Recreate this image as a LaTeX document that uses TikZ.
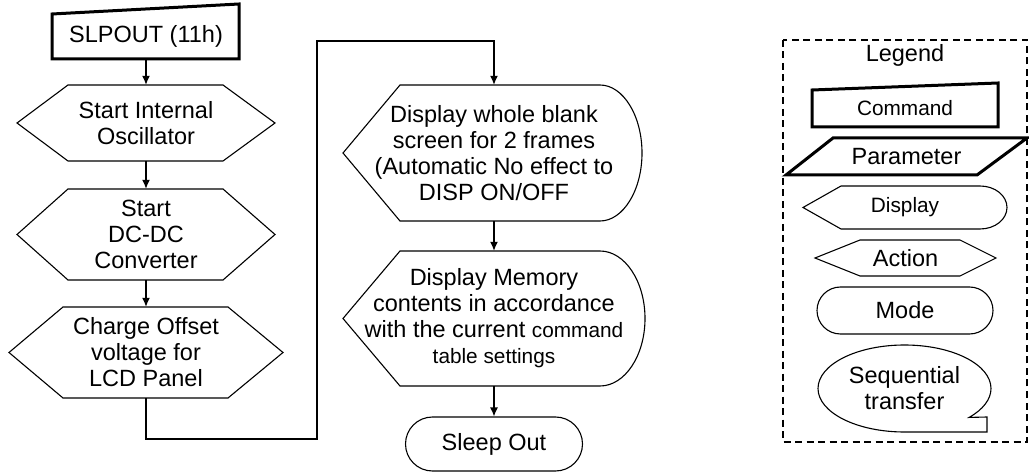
\documentclass[tikz,border=0pt]{standalone}
\usepackage{fontspec}
\setmainfont{Liberation Sans}
\usetikzlibrary{arrows.meta,calc}
\newcommand{\bigf}{\fontsize{23.5}{26}\selectfont}
\newcommand{\smf}{\fontsize{20.8}{26}\selectfont}
\begin{document}
\begin{tikzpicture}[x=1pt,y=-1pt,
  lbl/.style={inner sep=0pt, draw=none, align=center, font=\bigf},
  shp/.style={draw=black, line width=1.1pt, line join=miter},
  thk/.style={draw=black, line width=3pt, line join=miter},
  arr/.style={draw=black, line width=1.3pt, line join=miter, -{Latex[length=9pt,width=8pt]}},
  stad/.style={draw=black, line width=1.1pt, inner sep=0pt, font=\bigf}
]
\useasboundingbox (0,0) rectangle (1029,473);

% ---- left column ----
\draw[thk] (52,59) -- (52,14) -- (239,4) -- (239,59) -- cycle;
\node[lbl, minimum width=187pt, minimum height=45pt] (slp) at (146,36.5) {SLPOUT (11h)};

\draw[shp] (17,123) -- (68,85) -- (223,85) -- (275,123) -- (223,161) -- (68,161) -- cycle;
\node[lbl, minimum width=258pt, minimum height=76pt] (hex1) at (146,123) {Start Internal\\Oscillator};

\draw[shp] (17,234.5) -- (68,189) -- (223,189) -- (275,234.5) -- (223,280) -- (68,280) -- cycle;
\node[lbl, minimum width=258pt, minimum height=91pt] (hex2) at (146,234.5) {Start\\DC-DC\\Converter};

\draw[shp] (9,352.5) -- (63,307) -- (228,307) -- (283,352.5) -- (228,398) -- (63,398) -- cycle;
\node[lbl, minimum width=274pt, minimum height=91pt] (hex3) at (146,352.5) {Charge Offset\\voltage for\\LCD Panel};

% ---- middle column ----
\draw[shp] (343,153) -- (400,85) -- (600,85) .. controls (623,85) and (642,115.5) .. (642,153)
  .. controls (642,190.5) and (623,221) .. (600,221) -- (400,221) -- cycle;
\node[lbl, minimum width=299pt, minimum height=136pt] (disp1) at (494,153)
  {Display whole blank\\screen for 2 frames\\(Automatic No effect to\\DISP ON/OFF};

\draw[shp] (343,318.5) -- (400,251) -- (600,251) .. controls (624.8,251) and (645,281.3) .. (645,318.5)
  .. controls (645,355.7) and (624.8,386) .. (600,386) -- (400,386) -- cycle;
\node[lbl, minimum width=302pt, minimum height=135pt] (disp2) at (494,318.5)
  {Display Memory\\contents in accordance\\with the current {\smf command}\\{\smf table settings}};

\node[stad, rounded corners=27pt, minimum width=177pt, minimum height=54pt] (sleep) at (494,444) {Sleep Out};

% ---- connectors ----
\coordinate (b1) at (317,439);
\coordinate (b2) at (317,41);
\draw[arr] (slp.south) -- (hex1.north);
\draw[arr] (hex1.south) -- (hex2.north);
\draw[arr] (hex2.south) -- (hex3.north);
\draw[arr] (hex3.south) |- (b1) -- (b2) -| (disp1.north);
\draw[arr] (disp1.south) -- (disp2.north);
\draw[arr] (disp2.south) -- (sleep.north);

% ---- legend ----
\draw[line width=1.5pt, dash pattern=on 7pt off 4.5pt] (783,40) rectangle (1027,442);
\node[lbl] (leg) at (905,55) {Legend};

\draw[thk] (812,127) -- (812,90) -- (998,83) -- (998,127) -- cycle;
\node[lbl, font=\smf] (lcmd) at (905,108.5) {Command};

\draw[thk] (786,175) -- (833,138) -- (1027,138) -- (977,175) -- cycle;
\node[lbl] (lpar) at (906.5,156.5) {Parameter};

\draw[shp] (803,207.5) -- (841,186) -- (980,186) .. controls (995,186) and (1007,195.6) .. (1007,207.5)
  .. controls (1007,219.4) and (995,229) .. (980,229) -- (841,229) -- cycle;
\node[lbl, font=\smf] (ldisp) at (905,207.5) {Display};

\draw[shp] (815,258) -- (860,240) -- (960,240) -- (996,258) -- (960,276) -- (860,276) -- cycle;
\node[lbl] (lact) at (905.5,258) {Action};

\node[stad, rounded corners=23.5pt, minimum width=176pt, minimum height=47pt] (lmode) at (905,310.5) {Mode};

\draw[shp] (904.5,432) arc[start angle=270, end angle=-41.7, x radius=86.5pt, y radius=43.5pt]
  -- (987,417) -- (987,432) -- cycle;
\node[lbl] (lseq) at (904.5,388.5) {Sequential\\transfer};
\end{tikzpicture}
\end{document}
